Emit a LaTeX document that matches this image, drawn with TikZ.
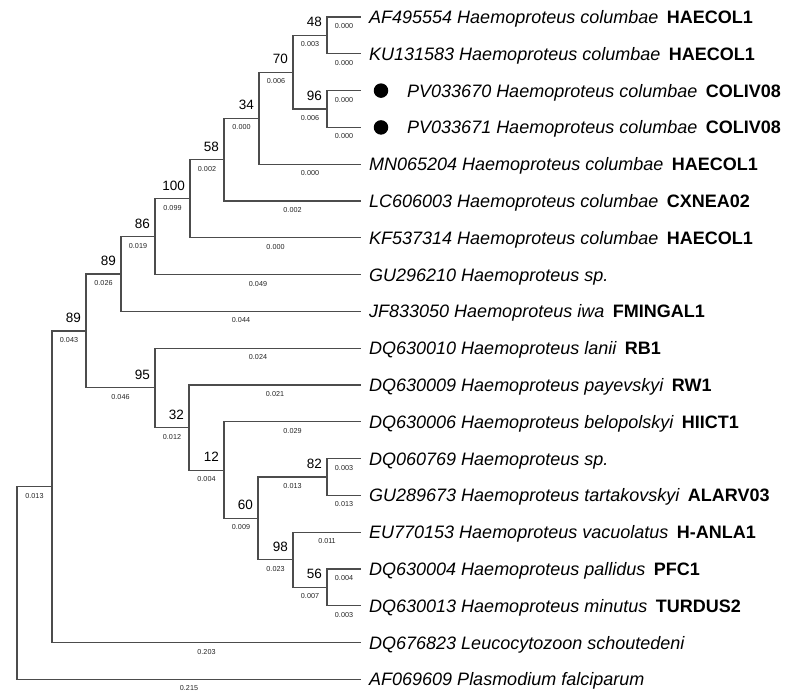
\documentclass[tikz,border=0pt]{standalone}
\usepackage{fontspec}
\setmainfont{Liberation Sans}
\newcommand\hptag[1]{\hspace{8.5pt}{\upshape\bfseries #1}}
\begin{document}
\begin{tikzpicture}[x=1pt,y=-1pt,
  br/.style={draw=black!70, line width=1.1pt},
  bl/.style={pos=0.75, font=\fontsize{7.2}{8}\selectfont, yshift=-9pt, text=black!85, inner sep=0pt},
  bs/.style={font=\fontsize{13.5}{15}\selectfont, anchor=base east, inner sep=0pt},
  leaf/.style={anchor=base west, font=\fontsize{18}{20}\selectfont\itshape, inner sep=0pt},
  dotmark/.style={circle, fill=black, minimum size=14.5pt, inner sep=0pt},
]
\useasboundingbox[fill=white] (0,0) rectangle (797,697);
% tips
\coordinate (t1) at (361,17);
\coordinate (t2) at (361,53.8);
\coordinate (t3) at (361,90.6);
\coordinate (t4) at (361,127.4);
\coordinate (t5) at (361,164.2);
\coordinate (t6) at (361,201);
\coordinate (t7) at (361,237.8);
\coordinate (t8) at (361,274.6);
\coordinate (t9) at (361,311.4);
\coordinate (t10) at (361,348.2);
\coordinate (t11) at (361,385);
\coordinate (t12) at (361,421.8);
\coordinate (t13) at (361,458.6);
\coordinate (t14) at (361,495.4);
\coordinate (t15) at (361,532.2);
\coordinate (t16) at (361,569);
\coordinate (t17) at (361,605.8);
\coordinate (t18) at (361,642.6);
\coordinate (t19) at (361,679.4);
% internal nodes
\coordinate (n48) at (327,35.4);
\coordinate (n96) at (327,109);
\coordinate (n70) at (293,72.2);
\coordinate (n34) at (259,118.2);
\coordinate (n58) at (224,159.6);
\coordinate (n100) at (190,198.7);
\coordinate (n86) at (155,236.7);
\coordinate (n89a) at (121,274);
\coordinate (n82) at (327,477);
\coordinate (n56) at (327,587.4);
\coordinate (n98) at (293,559.8);
\coordinate (n60) at (258,518.4);
\coordinate (n12) at (224,470.1);
\coordinate (n32) at (189,427.55);
\coordinate (n95) at (155,387.9);
\coordinate (n89b) at (86,330.95);
\coordinate (n52) at (52,486.8);
\coordinate (root) at (17,583.1);

% branches
\draw[br] (n48) |- node[bl]{0.000} (t1);
\draw[br] (n48) |- node[bl]{0.000} (t2);
\draw[br] (n96) |- node[bl]{0.000} (t3);
\draw[br] (n96) |- node[bl]{0.000} (t4);
\draw[br] (n70) |- node[bl]{0.003} (n48);
\draw[br] (n70) |- node[bl]{0.006} (n96);
\draw[br] (n34) |- node[bl]{0.006} (n70);
\draw[br] (n34) |- node[bl]{0.000} (t5);
\draw[br] (n58) |- node[bl]{0.000} (n34);
\draw[br] (n58) |- node[bl]{0.002} (t6);
\draw[br] (n100) |- node[bl]{0.002} (n58);
\draw[br] (n100) |- node[bl]{0.000} (t7);
\draw[br] (n86) |- node[bl]{0.099} (n100);
\draw[br] (n86) |- node[bl]{0.049} (t8);
\draw[br] (n89a) |- node[bl]{0.019} (n86);
\draw[br] (n89a) |- node[bl]{0.044} (t9);
\draw[br] (n89b) |- node[bl]{0.026} (n89a);
\draw[br] (n89b) |- node[bl]{0.046} (n95);
\draw[br] (n95) |- node[bl]{0.024} (t10);
\draw[br] (n95) |- node[bl]{0.012} (n32);
\draw[br] (n32) |- node[bl]{0.021} (t11);
\draw[br] (n32) |- node[bl]{0.004} (n12);
\draw[br] (n12) |- node[bl]{0.029} (t12);
\draw[br] (n12) |- node[bl]{0.009} (n60);
\draw[br] (n60) |- node[bl]{0.013} (n82);
\draw[br] (n60) |- node[bl]{0.023} (n98);
\draw[br] (n82) |- node[bl]{0.003} (t13);
\draw[br] (n82) |- node[bl]{0.013} (t14);
\draw[br] (n98) |- node[bl]{0.011} (t15);
\draw[br] (n98) |- node[bl]{0.007} (n56);
\draw[br] (n56) |- node[bl]{0.004} (t16);
\draw[br] (n56) |- node[bl]{0.003} (t17);
\draw[br] (n52) |- node[bl]{0.043} (n89b);
\draw[br] (n52) |- node[bl]{0.203} (t18);
\draw[br] (root) |- node[bl]{0.013} (n52);
\draw[br] (root) |- node[bl]{0.215} (t19);

% bootstrap values
\node[bs] (b48) at ([shift={(-5,-8.5)}]n48) {48};
\node[bs] (b96) at ([shift={(-5,-8.5)}]n96) {96};
\node[bs] (b70) at ([shift={(-5,-8.5)}]n70) {70};
\node[bs] (b34) at ([shift={(-5,-8.5)}]n34) {34};
\node[bs] (b58) at ([shift={(-5,-8.5)}]n58) {58};
\node[bs] (b100) at ([shift={(-5,-8.5)}]n100) {100};
\node[bs] (b86) at ([shift={(-5,-8.5)}]n86) {86};
\node[bs] (b89a) at ([shift={(-5,-8.5)}]n89a) {89};
\node[bs] (b89b) at ([shift={(-5,-8.5)}]n89b) {89};
\node[bs] (b95) at ([shift={(-5,-8.5)}]n95) {95};
\node[bs] (b32) at ([shift={(-5,-8.5)}]n32) {32};
\node[bs] (b12) at ([shift={(-5,-8.5)}]n12) {12};
\node[bs] (b60) at ([shift={(-5,-8.5)}]n60) {60};
\node[bs] (b82) at ([shift={(-5,-8.5)}]n82) {82};
\node[bs] (b98) at ([shift={(-5,-8.5)}]n98) {98};
\node[bs] (b56) at ([shift={(-5,-8.5)}]n56) {56};

% leaf labels
\node[leaf] (l1) at ([shift={(8,6.5)}]t1) {AF495554 Haemoproteus columbae\hptag{HAECOL1}};
\node[leaf] (l2) at ([shift={(8,6.5)}]t2) {KU131583 Haemoproteus columbae\hptag{HAECOL1}};
\node[dotmark] (d3) at ([xshift=20]t3) {};
\node[leaf] (l3) at ([shift={(46,6.5)}]t3) {PV033670 Haemoproteus columbae\hptag{COLIV08}};
\node[dotmark] (d4) at ([xshift=20]t4) {};
\node[leaf] (l4) at ([shift={(46,6.5)}]t4) {PV033671 Haemoproteus columbae\hptag{COLIV08}};
\node[leaf] (l5) at ([shift={(8,6.5)}]t5) {MN065204 Haemoproteus columbae\hptag{HAECOL1}};
\node[leaf] (l6) at ([shift={(8,6.5)}]t6) {LC606003 Haemoproteus columbae\hptag{CXNEA02}};
\node[leaf] (l7) at ([shift={(8,6.5)}]t7) {KF537314 Haemoproteus columbae\hptag{HAECOL1}};
\node[leaf] (l8) at ([shift={(8,6.5)}]t8) {GU296210 Haemoproteus sp.};
\node[leaf] (l9) at ([shift={(8,6.5)}]t9) {JF833050 Haemoproteus iwa\hptag{FMINGAL1}};
\node[leaf] (l10) at ([shift={(8,6.5)}]t10) {DQ630010 Haemoproteus lanii\hptag{RB1}};
\node[leaf] (l11) at ([shift={(8,6.5)}]t11) {DQ630009 Haemoproteus payevskyi\hptag{RW1}};
\node[leaf] (l12) at ([shift={(8,6.5)}]t12) {DQ630006 Haemoproteus belopolskyi\hptag{HIICT1}};
\node[leaf] (l13) at ([shift={(8,6.5)}]t13) {DQ060769 Haemoproteus sp.};
\node[leaf] (l14) at ([shift={(8,6.5)}]t14) {GU289673 Haemoproteus tartakovskyi\hptag{ALARV03}};
\node[leaf] (l15) at ([shift={(8,6.5)}]t15) {EU770153 Haemoproteus vacuolatus\hptag{H-ANLA1}};
\node[leaf] (l16) at ([shift={(8,6.5)}]t16) {DQ630004 Haemoproteus pallidus\hptag{PFC1}};
\node[leaf] (l17) at ([shift={(8,6.5)}]t17) {DQ630013 Haemoproteus minutus\hptag{TURDUS2}};
\node[leaf] (l18) at ([shift={(8,6.5)}]t18) {DQ676823 Leucocytozoon schoutedeni};
\node[leaf] (l19) at ([shift={(8,6.5)}]t19) {AF069609 Plasmodium falciparum};
\end{tikzpicture}
\end{document}
